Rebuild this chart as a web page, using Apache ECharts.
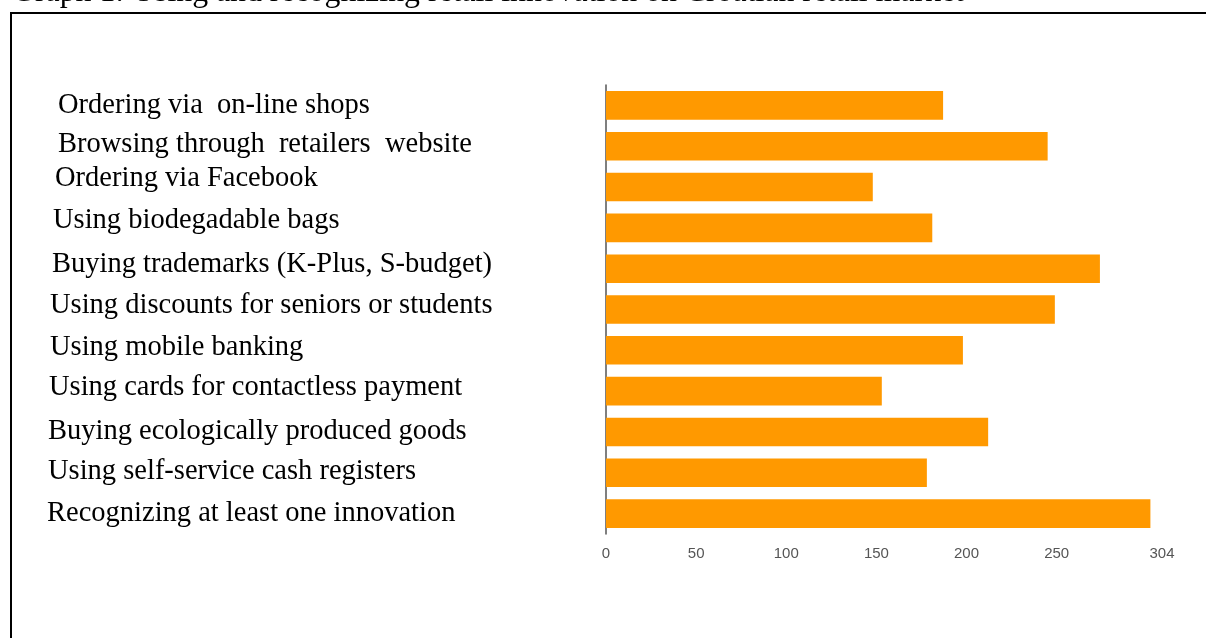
<!DOCTYPE html>
<html>
<head>
<meta charset="utf-8">
<style>
  html, body { margin: 0; padding: 0; background: #fff; }
  #chart { width: 1206px; height: 638px; }
</style>
<script src="https://cdn.jsdelivr.net/npm/echarts@6/dist/echarts.min.js"></script>
</head>
<body>
<div id="chart"></div>
<script>
// Survey answers: number of respondents per retail innovation
const titleText = 'Graph 1: Using and recognizing retail innovation on Croatian retail market';
const categories = [
  'Ordering via  on-line shops',
  'Browsing through  retailers  website',
  'Ordering via Facebook',
  'Using biodegadable bags',
  'Buying trademarks (K-Plus, S-budget)',
  'Using discounts for seniors or students',
  'Using mobile banking',
  'Using cards for contactless payment',
  'Buying ecologically produced goods',
  'Using self-service cash registers',
  'Recognizing at least one innovation'
];
const respondents = [187, 245, 148, 181, 274, 249, 198, 153, 212, 178, 302];
const axisTicks = [0, 50, 100, 150, 200, 250, 304];
const axisMax = 304;

// per-row nudges of the category labels (px), top row first
const labelIndent = [11, 11, 8, 6, 5, 3, 3, 2, 1, 1, 0];
const labelLift = [0, 3, 17, 14, 9, 7, 5, 7, 0, 2, 0];

const serif = '"Liberation Serif", "Times New Roman", serif';
const sans = '"Liberation Sans", Arial, sans-serif';

const rich = {};
labelIndent.forEach((pad, i) => {
  rich['r' + i] = {
    fontFamily: serif,
    fontSize: 28.5,
    color: '#000',
    padding: [0, 0, labelLift[i], pad]
  };
});

const chart = echarts.init(document.getElementById('chart'), null, { renderer: 'canvas' });
chart.setOption({
  backgroundColor: '#fff',
  animation: false,
  graphic: [
    {
      type: 'rect',
      shape: { x: 11, y: 13, width: 1300, height: 700 },
      style: { fill: 'none', stroke: '#000', lineWidth: 2 },
      silent: true
    },
    {
      type: 'text',
      x: 12,
      y: -7,
      style: {
        text: titleText,
        font: '31.8px ' + serif,
        fill: '#000',
        verticalAlign: 'middle'
      },
      silent: true
    }
  ],
  grid: { left: 606, top: 85, right: 52, height: 449, containLabel: false },
  xAxis: {
    type: 'value',
    min: 0,
    max: axisMax,
    splitLine: { show: false },
    axisLine: { show: false },
    axisTick: { show: false },
    axisLabel: {
      customValues: axisTicks,
      margin: 12,
      color: '#555',
      fontFamily: sans,
      fontSize: 15,
      formatter: v => (v === axisMax ? '{end|' + v + '}' : String(v)),
      rich: { end: { padding: [0, 0, 0, 16], color: '#555', fontFamily: sans, fontSize: 15 } }
    }
  },
  yAxis: {
    type: 'category',
    inverse: true,
    data: categories,
    axisLine: { show: true, lineStyle: { color: '#555', width: 1.5 } },
    axisTick: { show: false },
    axisLabel: {
      align: 'left',
      margin: 606 - 47,
      formatter: (v, i) => '{r' + i + '|' + v + '}',
      rich: rich
    }
  },
  series: [{
    type: 'bar',
    data: respondents,
    barCategoryGap: '30%',
    itemStyle: { color: '#FF9900' }
  }]
});
</script>
</body>
</html>
